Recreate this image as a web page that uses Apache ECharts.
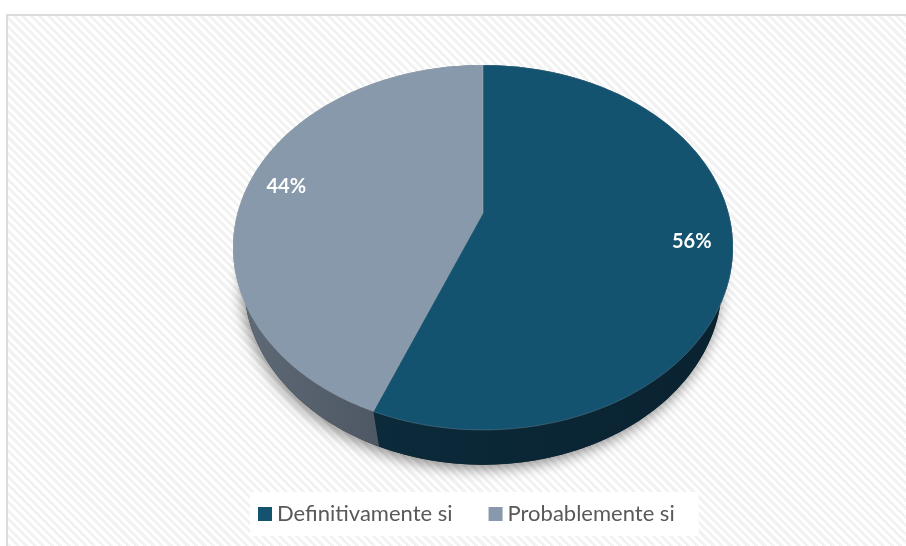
<!DOCTYPE html>
<html>
<head>
<meta charset="utf-8">
<script src="https://cdn.jsdelivr.net/npm/echarts@6/dist/echarts.min.js"></script>
<style>
html, body { margin: 0; padding: 0; background: #fff; overflow: hidden; }
#frame {
    position: absolute; left: 6px; top: 14px; width: 920px; height: 560px;
    border-left: 2px solid #dcdcdc; border-top: 2px solid #dcdcdc;
    background: repeating-linear-gradient(45deg, #ffffff 0px, #ffffff 3px, #f2f2f2 3px, #f2f2f2 6px);
}
#main { position: absolute; left: 0; top: 0; width: 906px; height: 546px; }
</style>
</head>
<body>
<div id="frame"></div>
<div id="main"></div>
<script>
// datos
var categories = ['Definitivamente si', 'Probablemente si'];
var values = [56, 44];

// colores de cara superior y lateral
var topColors = ['#14536f', '#8799ab'];
var sideColors = [['#0b2a3a', '#0a2230'], ['#606b78', '#414a55']];

// proyeccion en perspectiva del disco
var CX = 483, CY = 213, K = 245.5;
var PHI = 45.8 * Math.PI / 180, DIST = 3.69, DEPTH = 0.23;

function project(t, r, h) {
    var X = r * Math.sin(t), Z = -r * Math.cos(t);
    var sy = Z * Math.sin(PHI) - h * Math.cos(PHI);
    var dz = Z * Math.cos(PHI) + h * Math.sin(PHI);
    var s = DIST / (DIST - dz);
    return [CX + K * X * s, CY + K * sy * s];
}

function arc(a, b, h) {
    var pts = [];
    var n = Math.max(2, Math.ceil(Math.abs(b - a) / (Math.PI / 180)));
    for (var k = 0; k <= n; k++) {
        pts.push(project(a + (b - a) * k / n, 1, h));
    }
    return pts;
}

var total = values.reduce(function (s, v) { return s + v; }, 0);

function renderSlice(params, api) {
    var i = params.seriesIndex;
    var before = 0;
    for (var j = 0; j < i; j++) before += values[j];
    var a = before / total * Math.PI * 2;
    var b = (before + values[i]) / total * Math.PI * 2;
    var children = [];

    if (i === 0) {
        // sombra bajo el disco
        children.push({
            type: 'polygon', z2: 0,
            shape: { points: arc(0, Math.PI * 2, -DEPTH) },
            style: { fill: '#1c2630', shadowBlur: 14, shadowColor: 'rgba(0,0,0,0.45)', shadowOffsetX: -2, shadowOffsetY: 4 }
        });
    }

    // lateral
    var sidePts = arc(a, b, 0).concat(arc(b, a, -DEPTH));
    children.push({
        type: 'polygon', z2: 1,
        shape: { points: sidePts },
        style: {
            fill: new echarts.graphic.LinearGradient(0, 0, 1, 0, [
                { offset: 0, color: sideColors[i][0] },
                { offset: 1, color: sideColors[i][1] }
            ])
        }
    });

    // cara superior
    var topPts = [project(0, 0, 0)].concat(arc(a, b, 0));
    children.push({
        type: 'polygon', z2: 2,
        shape: { points: topPts },
        style: { fill: topColors[i], stroke: 'rgba(255,255,255,0.25)', lineWidth: 0.6 }
    });

    // etiqueta
    var lp = project((a + b) / 2, 0.84, 0);
    children.push({
        type: 'text', z2: 3,
        style: {
            text: Math.round(values[i] / total * 100) + '%',
            x: lp[0], y: lp[1],
            fill: '#ffffff',
            font: 'bold 20px Lato',
            align: 'center', verticalAlign: 'middle'
        }
    });

    return { type: 'group', children: children };
}

var series = categories.map(function (name, i) {
    return {
        name: name,
        type: 'custom',
        coordinateSystem: 'none',
        renderItem: renderSlice,
        itemStyle: { color: topColors[i] },
        data: [values[i]],
        silent: true
    };
});

var option = {
    backgroundColor: 'transparent',
    animation: false,
    legend: {
        data: categories,
        left: 250,
        top: 492,
        backgroundColor: '#ffffff',
        padding: [11, 24, 11, 8],
        icon: 'rect',
        itemWidth: 14,
        itemHeight: 14,
        itemGap: 36,
        selectedMode: false,
        textStyle: { fontFamily: 'Lato', fontSize: 22, color: '#595959' }
    },
    series: series
};

var myChart = echarts.init(document.getElementById('main'));
myChart.setOption(option);
</script>
</body>
</html>
